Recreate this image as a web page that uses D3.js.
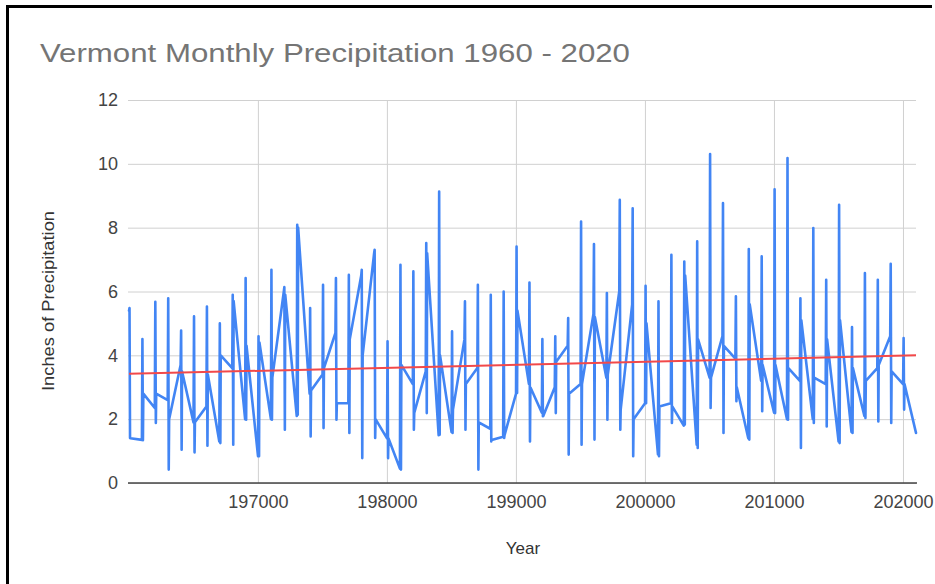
<!DOCTYPE html>
<html>
<head>
<meta charset="utf-8">
<script src="https://cdn.jsdelivr.net/npm/d3@7"></script>
<style>
  html, body { margin: 0; padding: 0; background: #fff; }
  svg { display: block; }
  text { font-family: "Liberation Sans", Arial, sans-serif; }
</style>
</head>
<body>
<svg id="chart" width="935" height="584"></svg>
<script>
// ---- data ----
const years = [1960,1961,1962,1963,1964,1965,1966,1967,1968,1969,
               1970,1971,1972,1973,1974,1975,1976,1977,1978,1979,
               1980,1981,1982,1983,1984,1985,1986,1987,1988,1989,
               1990,1991,1992,1993,1994,1995,1996,1997,1998,1999,
               2000,2001,2002,2003,2004,2005,2006,2007,2008,2009,
               2010,2011,2012,2013,2014,2015,2016,2017,2018,2019,
               2020];
// January value of each year
const janPrecip = [5.4,1.35,2.35,2.6,3.7,1.9,2.4,1.3,3.6,2.0,
                   0.84,2.0,6.0,2.1,2.8,3.4,4.7,2.5,6.5,7.2,
                   1.4,0.45,3.1,3.5,1.5,1.6,4.5,3.6,1.7,1.45,
                   2.8,3.1,2.2,3.0,4.3,3.1,5.3,3.3,6.0,5.6,
                   2.5,0.9,2.5,1.8,1.2,3.3,4.6,3.9,1.4,3.2,
                   2.2,2.0,3.2,2.0,3.1,1.3,1.6,2.1,3.6,4.6,
                   3.1];
// wettest month of each year
const highPrecip = [5.48,4.51,5.68,5.79,4.78,5.22,5.53,5.0,5.9,6.42,
                    4.6,6.68,6.14,8.09,5.48,6.21,6.42,6.52,6.68,7.31,
                    4.44,6.84,6.63,7.52,9.13,4.75,5.69,6.21,5.9,6.0,
                    7.41,6.28,4.51,4.6,5.17,8.19,7.49,5.95,8.87,8.61,
                    6.18,5.69,7.15,6.94,7.57,10.31,8.77,5.85,7.33,7.1,
                    9.2,10.18,5.79,7.99,6.37,8.72,4.89,6.58,6.37,6.87,
                    4.54];
// driest month of each year
const lowPrecip = [1.41,1.34,1.88,0.42,1.04,0.96,1.17,1.25,1.2,1.98,
                   0.84,1.98,1.67,2.14,1.46,1.72,1.98,1.57,0.78,1.41,
                   0.78,0.42,1.67,2.19,1.51,1.57,1.67,0.42,1.30,1.41,
                   2.82,1.30,2.09,2.19,0.89,1.2,1.36,1.98,1.67,0.84,
                   2.5,0.84,1.88,1.83,1.1,2.35,1.57,2.56,1.36,2.25,
                   2.19,1.98,1.1,1.88,1.77,1.25,1.57,2.04,1.93,1.88,
                   2.3];
// December value of each year
const decPrecip = [1.4,2.8,2.8,2.0,3.5,1.9,3.4,4.0,5.7,4.3,
                   4.4,3.3,5.9,8.0,2.9,3.6,2.5,4.5,4.0,2.0,
                   1.4,3.7,2.2,7.2,4.0,2.3,3.1,1.9,1.35,1.5,
                   5.4,3.0,2.1,3.8,2.8,3.1,5.2,3.4,2.3,2.0,
                   5.0,2.4,2.4,6.5,4.5,3.3,4.3,3.0,5.6,3.7,
                   3.7,3.6,5.1,3.3,4.5,5.1,3.6,3.2,3.7,3.5,
                   3.1];
const highMonth = 5, lowMonth = 9;
const lastPeriod = 202101, lastPrecip = 1.57;   // January 2021
// linear trendline end points
const trendPeriods = [196001, 202101];
const trendValues  = [3.42, 4.0];
const xTicks = [197000, 198000, 199000, 200000, 201000, 202000];
const yTicks = [0, 2, 4, 6, 8, 10, 12];

// ---- build the series (x = YYYYMM number) ----
const series = [];
years.forEach((yr, i) => {
  series.push([yr * 100 + 1, janPrecip[i]]);
  series.push([yr * 100 + highMonth, highPrecip[i]]);
  series.push([yr * 100 + lowMonth, lowPrecip[i]]);
  series.push([yr * 100 + 12, decPrecip[i]]);
});
series.push([lastPeriod, lastPrecip]);
const trend = trendPeriods.map((p, i) => [p, trendValues[i]]);

// ---- drawing ----
const svg = d3.select("#chart");
const L = 129, R = 916, T = 100, B = 483;
const x = d3.scaleLinear().domain([196001, 202101]).range([L, R]);
const y = d3.scaleLinear().domain([0, 12]).range([B, T]);

svg.append("rect").attr("width", 935).attr("height", 584).attr("fill", "#fff");

// frame (top + left)
svg.append("path")
  .attr("d", "M7.5,584 L7.5,6.5 L932,6.5")
  .attr("fill", "none").attr("stroke", "#000").attr("stroke-width", 3);

// title
svg.append("text")
  .attr("x", 40).attr("y", 62)
  .attr("font-size", 26.5)
  .attr("fill", "#757575")
  .attr("textLength", 590).attr("lengthAdjust", "spacingAndGlyphs")
  .text("Vermont Monthly Precipitation 1960 - 2020");

// horizontal grid + y axis labels
const yAxis = d3.axisLeft(y).tickValues(yTicks).tickSize(-(R - L + 1)).tickPadding(10);
const gy = svg.append("g").attr("transform", `translate(${L - 1},0)`).call(yAxis);
gy.select(".domain").remove();
gy.selectAll(".tick line").attr("stroke", "#d0d0d0").attr("stroke-width", 1);
gy.selectAll(".tick text")
  .attr("font-size", 18).attr("fill", "#444")
  .attr("font-family", "Liberation Sans, Arial, sans-serif");

// vertical grid + x axis labels
const xAxis = d3.axisBottom(x).tickValues(xTicks).tickFormat(d3.format("d"))
  .tickSize(-(B - T)).tickPadding(12);
const gx = svg.append("g").attr("transform", `translate(0,${B})`).call(xAxis);
gx.select(".domain").remove();
gx.selectAll(".tick line").attr("stroke", "#d0d0d0").attr("stroke-width", 1);
gx.selectAll(".tick text")
  .attr("font-size", 18).attr("fill", "#444")
  .attr("font-family", "Liberation Sans, Arial, sans-serif");

// baseline at zero
svg.append("line")
  .attr("x1", L - 1).attr("x2", R + 1)
  .attr("y1", y(0)).attr("y2", y(0))
  .attr("stroke", "#444").attr("stroke-width", 1.3);

// precipitation line
svg.append("path")
  .datum(series)
  .attr("fill", "none")
  .attr("stroke", "#4285f4")
  .attr("stroke-width", 2.6)
  .attr("stroke-linejoin", "round")
  .attr("stroke-linecap", "round")
  .attr("d", d3.line().x(d => x(d[0])).y(d => y(d[1])));

// trendline
svg.append("path")
  .datum(trend)
  .attr("fill", "none")
  .attr("stroke", "#f2494a")
  .attr("stroke-width", 2)
  .attr("d", d3.line().x(d => x(d[0])).y(d => y(d[1])));

// axis titles
svg.append("text")
  .attr("x", 523).attr("y", 554)
  .attr("text-anchor", "middle")
  .attr("font-size", 17).attr("fill", "#333")
  .text("Year");

svg.append("text")
  .attr("transform", "translate(54,301) rotate(-90)")
  .attr("text-anchor", "middle")
  .attr("font-size", 16.5).attr("fill", "#333")
  .attr("textLength", 180).attr("lengthAdjust", "spacingAndGlyphs")
  .text("Inches of Precipitation");
</script>
</body>
</html>
